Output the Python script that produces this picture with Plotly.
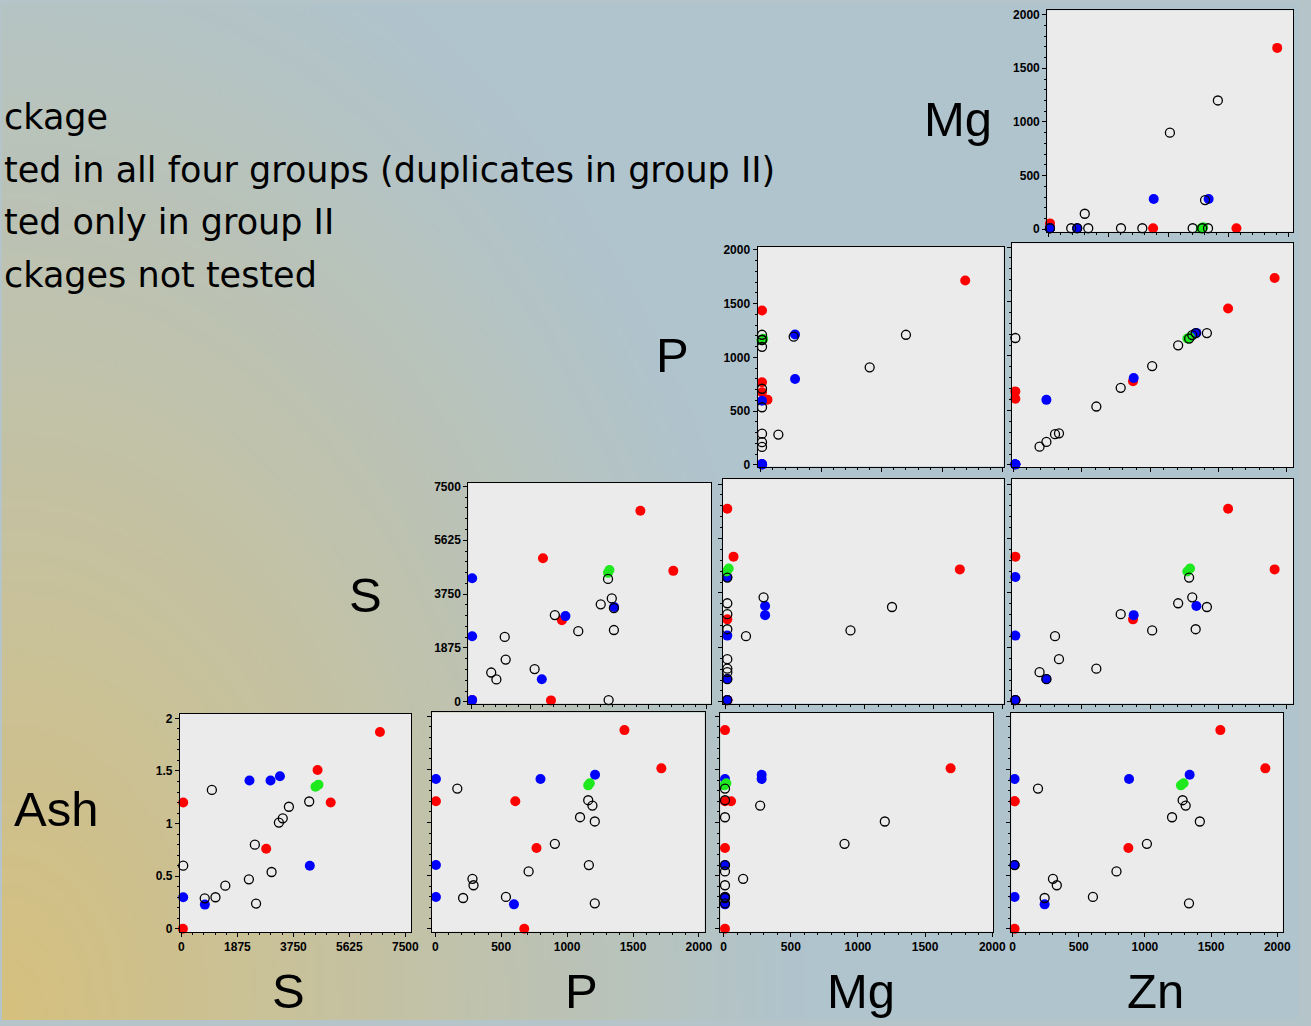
import base64, struct, zlib
import numpy as np
import plotly.graph_objects as go

W, H = 1311, 1026

# ---------------- data (one entry per sample) ----------------
red_ash = [1.87, 1.51, 1.20, 1.20, 0.76, 0.00]
red_s   = [6650, 4560, 5000, 60, 2840, 50]
red_p   = [1435, 1715, 607, 5, 768, 675]
red_mg  = [10, 1690, 55, 10, 10, 10]
red_zn  = [1570, 1910, 15, 15, 875, 15]

blue_ash = [1.45, 1.41, 1.41, 0.60, 0.30, 0.23]
blue_s   = [3300, 2985, 2280, 4300, 60, 785]
blue_p   = [1212, 798, 5, 5, 5, 597]
blue_mg  = [283, 283, 10, 10, 10, 10]
blue_zn  = [1338, 880, 15, 15, 15, 242]

green_ash = [1.35, 1.37]
green_s   = [4490, 4590]
green_p   = [1160, 1172]
green_mg  = [5, 20]
green_zn  = [1272, 1292]

open_ash = [1.32, 1.21, 1.16, 1.05, 1.01, 0.80, 0.60, 0.54, 0.47, 0.41, 0.30, 0.29, 0.24]
open_s   = [1020, 4280, 3600, 3394, 3265, 2460, 60, 3020, 2260, 1470, 1140, 780, 2500]
open_p   = [167, 1160, 1192, 1098, 1210, 907, 1165, 708, 282, 290, 536, 211, 1210]
open_mg  = [10, 10, 272, 10, 1200, 900, 10, 10, 145, 10, 10, 10, 10]
open_zn  = [192, 1285, 1308, 1205, 1415, 1015, 15, 785, 305, 334, 607, 242, 1333]

legend_lines = ["ckage",
                "ted in all four groups (duplicates in group II)",
                "ted only in group II",
                "ckages not tested"]
row_labels = ["Mg", "P", "S", "Ash"]
col_labels = ["S", "P", "Mg", "Zn"]

ticks_2000 = [0, 500, 1000, 1500, 2000]
ticks_s = [0, 1875, 3750, 5625, 7500]
ticks_ash = [0, 0.5, 1, 1.5, 2]
ticktext_ash = ["0", "0.5", "1", "1.5", "2"]

groups = {
    "red":   dict(Ash=red_ash, S=red_s, P=red_p, Mg=red_mg, Zn=red_zn),
    "blue":  dict(Ash=blue_ash, S=blue_s, P=blue_p, Mg=blue_mg, Zn=blue_zn),
    "green": dict(Ash=green_ash, S=green_s, P=green_p, Mg=green_mg, Zn=green_zn),
    "open":  dict(Ash=open_ash, S=open_s, P=open_p, Mg=open_mg, Zn=open_zn),
}
styles = {
    "red":   dict(symbol="circle", size=10, color="#ff0000", line=dict(width=0)),
    "blue":  dict(symbol="circle", size=10, color="#0000ff", line=dict(width=0)),
    "green": dict(symbol="circle", size=10, color="#1ee81e", line=dict(width=0)),
    "open":  dict(symbol="circle-open", size=9, color="black", line=dict(width=1.3)),
}

# (xvar, yvar, panel box l r t b in px, x calibration, y calibration, x labels, y labels)
panels = [
    ("Zn", "Mg", (1057.3, 1306, 7.3, 230.7), (0, 1058.3, 2000, 1300.9), (0, 228.3, 2000, 11.7), False, True),
    ("Mg", "P", (764.3, 1013.3, 245.7, 467.7), (0, 767.6, 2000, 1012.3), (0, 466, 2000, 249), False, True),
    ("Zn", "P", (1021.7, 1306, 242.3, 468.3), (0, 1023, 2000, 1299.8), (0, 466, 2000, 246.2), False, False),
    ("P", "S", (471.7, 717.7, 484.3, 706.7), (0, 475, 2000, 713), (0, 705, 7500, 487.7), False, True),
    ("Mg", "S", (729, 1013.3, 480, 706.7), (0, 732.3, 2000, 1012.3), (0, 705, 7500, 485.3), False, False),
    ("Zn", "S", (1021.7, 1306, 480, 706.7), (0, 1023, 2000, 1299.8), (0, 705, 7500, 485.3), False, False),
    ("S", "Ash", (180, 414, 717.3, 937.3), (0, 181.5, 7500, 408), (0, 934, 2, 721.7), True, True),
    ("P", "Ash", (435, 710.7, 715.7, 937), (0, 438.3, 2000, 705), (0, 934, 2, 719.6), True, False),
    ("Mg", "Ash", (726.7, 1002.7, 716, 937), (0, 730, 2000, 1001.7), (0, 934, 2, 719.6), True, False),
    ("Zn", "Ash", (1021, 1295.7, 716, 937), (0, 1022.3, 2000, 1290), (0, 934, 2, 719.6), True, False),
]


def edge_vals(e0, e1, cal):
    v0, p0, v1, p1 = cal
    f = lambda p: v0 + (p - p0) * (v1 - v0) / (p1 - p0)
    return [f(e0), f(e1)]


def tick_cfg(var):
    if var == "S":
        return dict(tickvals=ticks_s, ticktext=[str(t) for t in ticks_s]), 375
    if var == "Ash":
        return dict(tickvals=ticks_ash, ticktext=ticktext_ash), 0.1
    return dict(tickvals=ticks_2000, ticktext=[str(t) for t in ticks_2000]), 100


fig = go.Figure()
layout = {}
shapes = []
tickfont = dict(family="Liberation Sans, Arial, sans-serif", size=12, color="black", weight="bold")

for i, (xv, yv, box, xcal, ycal, showx, showy) in enumerate(panels, start=1):
    l, r, t, b = box
    xa = "x" if i == 1 else f"x{i}"
    ya = "y" if i == 1 else f"y{i}"
    xkey = "xaxis" if i == 1 else f"xaxis{i}"
    ykey = "yaxis" if i == 1 else f"yaxis{i}"
    xt, xminor = tick_cfg(xv)
    yt, yminor = tick_cfg(yv)
    common = dict(showgrid=False, zeroline=False, showline=True, linecolor="black", linewidth=1,
                  mirror=True, ticks="outside", ticklen=4, tickwidth=1, tickcolor="black",
                  tickfont=tickfont, tickmode="array", fixedrange=True)
    layout[xkey] = dict(common, domain=[l / W, r / W], range=edge_vals(l, r, xcal), anchor=ya,
                        showticklabels=showx,
                        minor=dict(dtick=xminor, tick0=0, ticks="outside", ticklen=2, tickcolor="black"),
                        **xt)
    layout[ykey] = dict(common, domain=[1 - b / H, 1 - t / H], range=edge_vals(b, t, ycal), anchor=xa,
                        showticklabels=showy,
                        minor=dict(dtick=yminor, tick0=0, ticks="outside", ticklen=2, tickcolor="black"),
                        **yt)
    # light-gray panel face drawn above the background picture
    shapes.append(dict(type="rect", xref="paper", yref="paper", x0=l / W, x1=r / W,
                       y0=1 - b / H, y1=1 - t / H, fillcolor="#ebebeb", line=dict(width=0),
                       layer="below"))
    for g in ["red", "blue", "green", "open"]:
        fig.add_trace(go.Scatter(x=groups[g][xv], y=groups[g][yv], mode="markers",
                                 marker=styles[g], xaxis=xa, yaxis=ya, cliponaxis=False,
                                 showlegend=False, hoverinfo="skip"))

# ---------------- background gradient picture ----------------
nx, ny = 262, 205
xs = np.linspace(0, W, nx)[None, :]
ys = np.linspace(0, H, ny)[:, None]
w = 1 - np.sqrt((xs / (0.62 * W)) ** 2 + ((H - ys) / (1.15 * H)) ** 2)
w = np.clip(w, 0, 1)
cool = np.array([176, 196, 206], float)
warm = np.array([214, 192, 126], float)
img = cool[None, None, :] * (1 - w[..., None]) + warm[None, None, :] * w[..., None]
img = np.clip(img, 0, 255).astype(np.uint8)


def make_png(arr):
    h, wd, _ = arr.shape
    raw = b"".join(b"\x00" + arr[k].tobytes() for k in range(h))

    def chunk(tag, data):
        c = struct.pack(">I", len(data)) + tag + data
        return c + struct.pack(">I", zlib.crc32(tag + data) & 0xffffffff)
    return (b"\x89PNG\r\n\x1a\n" + chunk(b"IHDR", struct.pack(">IIBBBBB", wd, h, 8, 2, 0, 0, 0))
            + chunk(b"IDAT", zlib.compress(raw, 9)) + chunk(b"IEND", b""))


bg_src = "data:image/png;base64," + base64.b64encode(make_png(img)).decode()

# ---------------- text ----------------
annotations = []
leg_y = [115, 168, 221, 274]
for txt, yy in zip(legend_lines, leg_y):
    annotations.append(dict(text=txt, x=0, y=1 - yy / H, xref="paper", yref="paper",
                            xanchor="left", yanchor="middle", showarrow=False,
                            font=dict(family="DejaVu Sans, sans-serif", size=35, color="black")))
big = dict(family="Liberation Sans, Arial, sans-serif", size=49, color="black")
row_pos = [(967, 117), (678, 355), (368, 597), (55, 813)]
for txt, (xx, yy) in zip(row_labels, row_pos):
    annotations.append(dict(text=txt, x=xx / W, y=1 - yy / H, xref="paper", yref="paper",
                            xanchor="center", yanchor="middle", showarrow=False, font=big))
col_x = [290, 586, 869, 1167]
for txt, xx in zip(col_labels, col_x):
    annotations.append(dict(text=txt, x=xx / W, y=0, xref="paper", yref="paper",
                            xanchor="center", yanchor="bottom", showarrow=False, font=big))

fig.update_layout(
    width=W, height=H, margin=dict(l=0, r=0, t=0, b=0, pad=0),
    paper_bgcolor="rgb(180,196,200)", plot_bgcolor="#ebebeb",
    images=[dict(source=bg_src, xref="paper", yref="paper", x=0, y=1, sizex=1, sizey=1,
                 xanchor="left", yanchor="top", sizing="stretch", layer="below")],
    shapes=shapes, annotations=annotations, showlegend=False, **layout)

clip_js = (
    "var gd=document.getElementById('{plot_id}');"
    "document.documentElement.style.overflow='hidden';"
    "document.body.style.margin='0';document.body.style.overflow='hidden';"
    "if(gd){gd.style.overflow='hidden';"
    "gd.querySelectorAll('.svg-container, svg.main-svg').forEach(function(e){e.style.overflow='hidden';});}"
)
fig.write_html("out.html", post_script=clip_js,
               config=dict(staticPlot=True, responsive=False, displayModeBar=False))
